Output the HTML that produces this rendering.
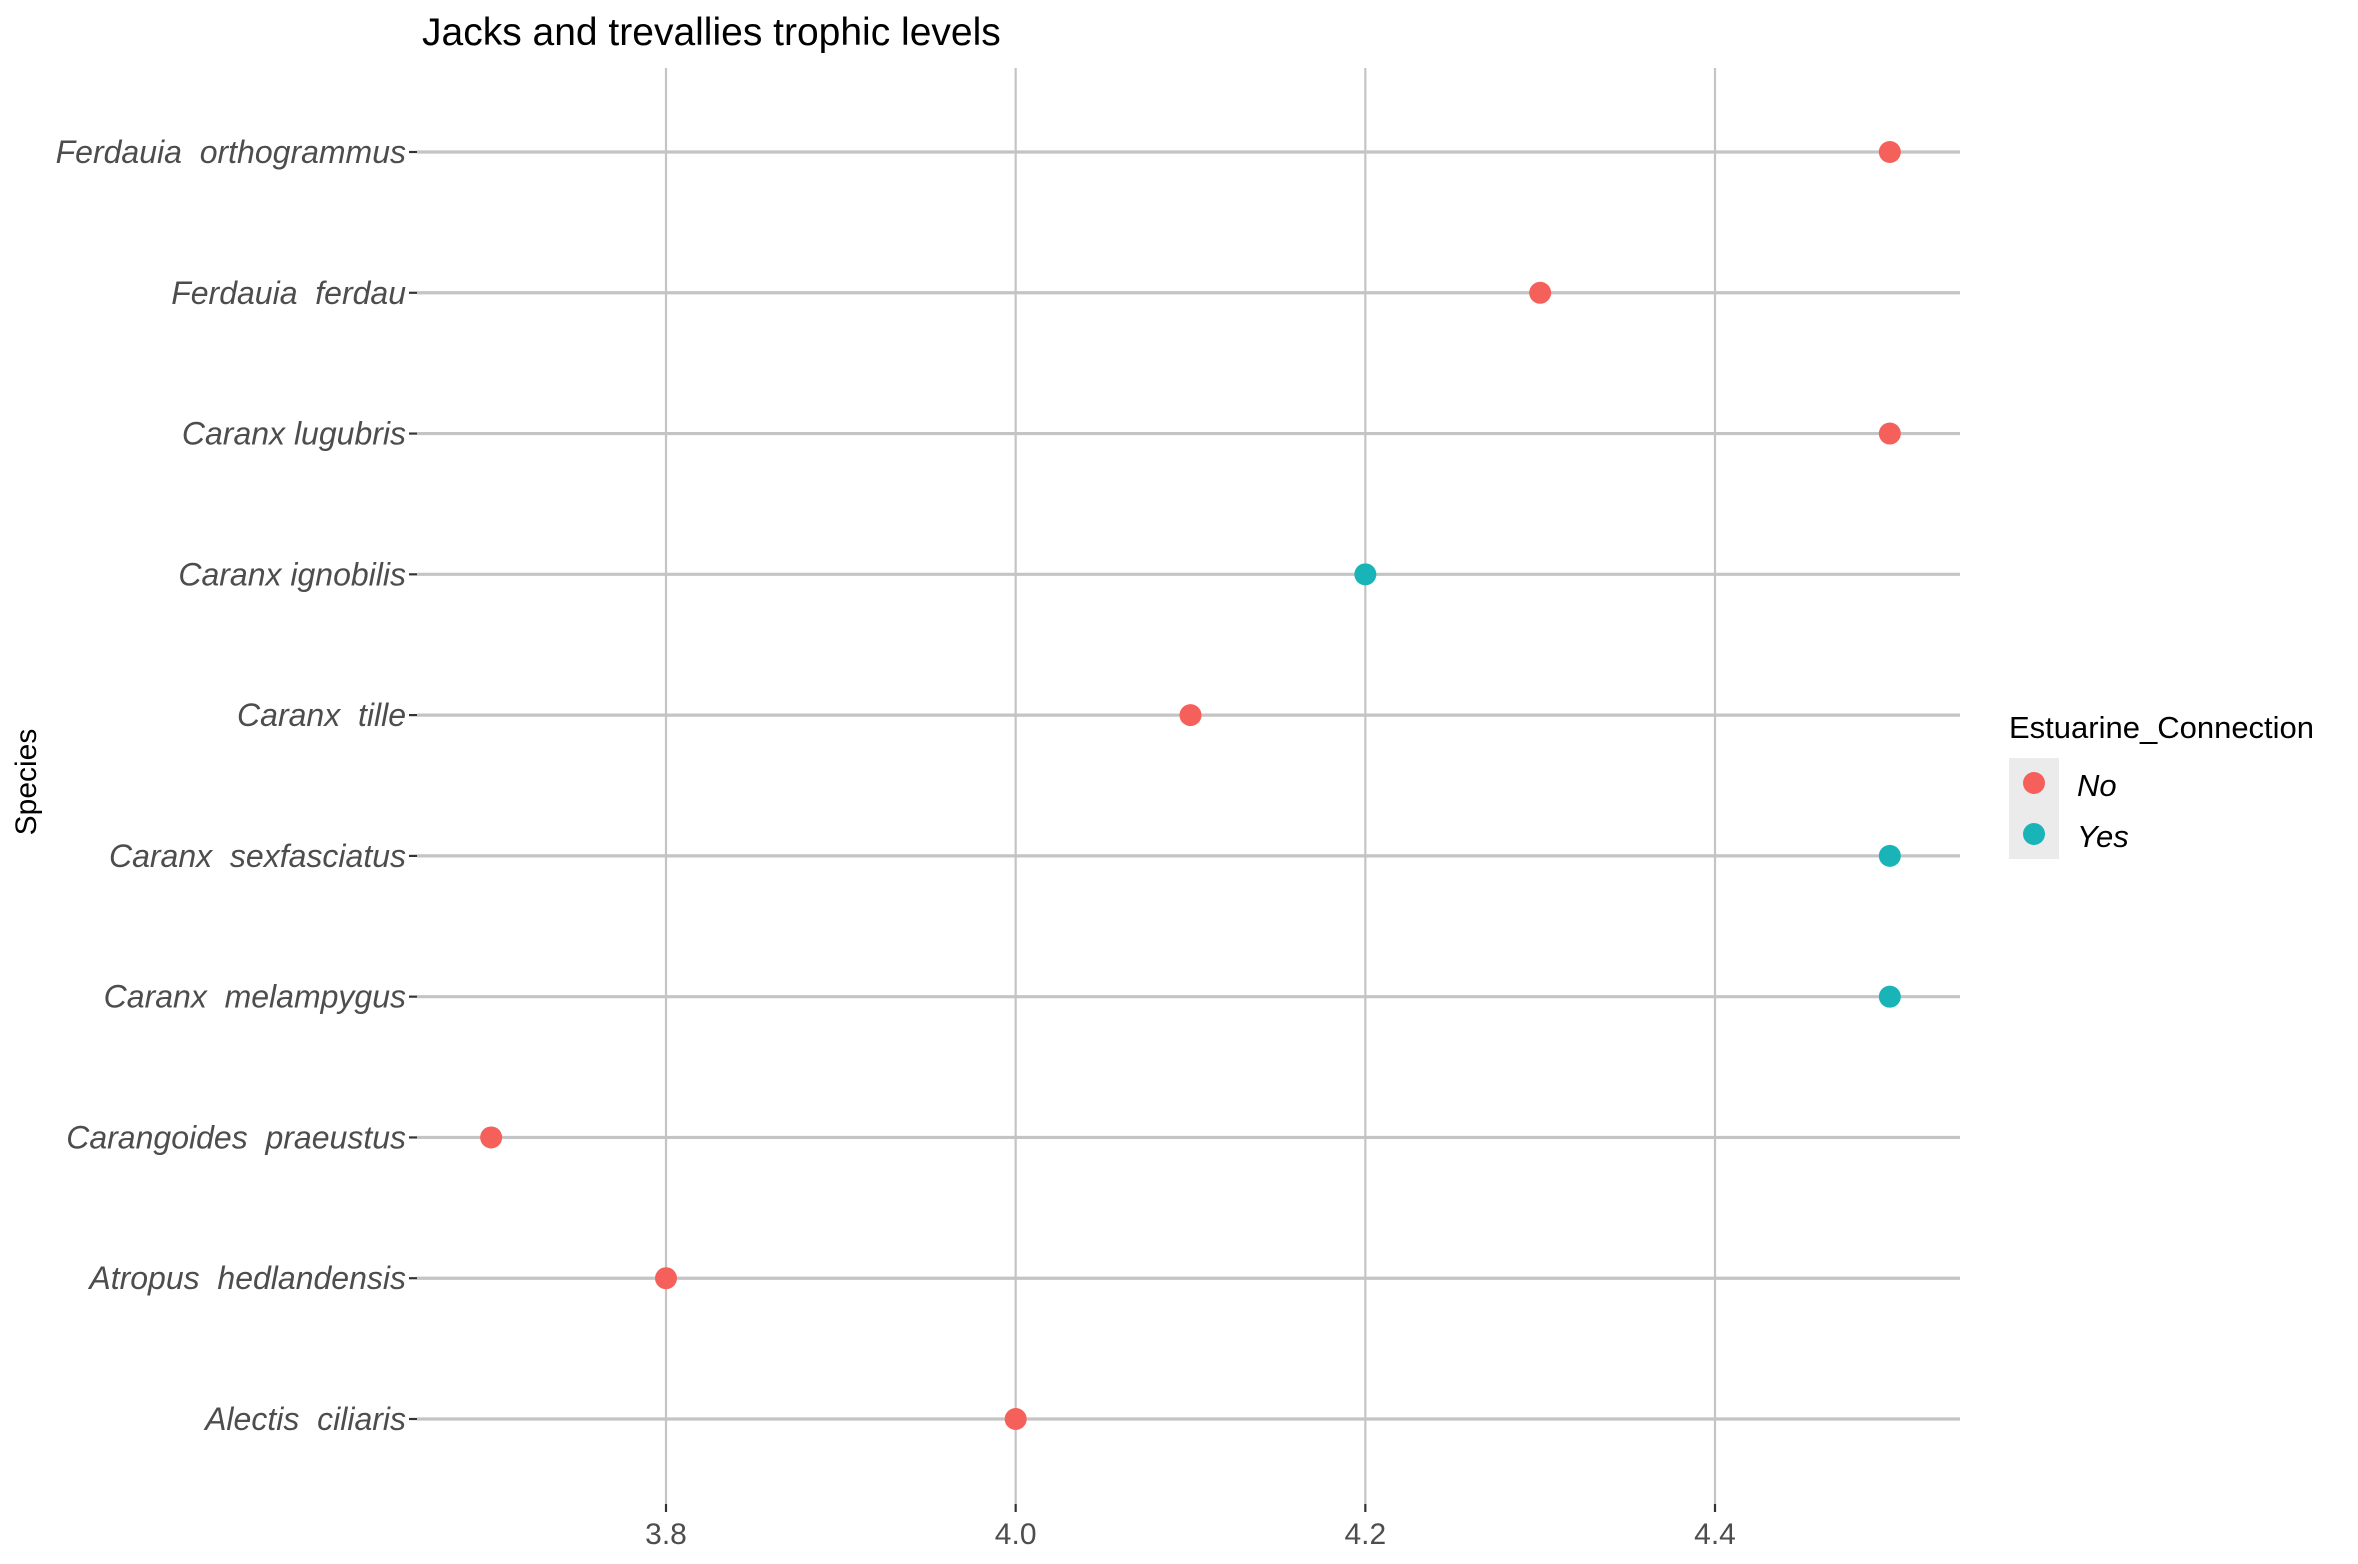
<!DOCTYPE html>
<html><head><meta charset="utf-8"><style>
html,body{margin:0;padding:0;background:#fff;}
svg{display:block;font-family:"Liberation Sans",Arial,sans-serif;}
</style></head><body>
<svg id="chart" width="2358" height="1564" viewBox="0 0 2358 1564">
<text x="422" y="45" font-size="39" fill="#000">Jacks and trevallies trophic levels</text>
<g id="grid"></g>
<g id="yaxis"></g>
<g id="xaxis"></g>
<g id="points"></g>
<text transform="translate(36,782) rotate(-90)" text-anchor="middle" font-size="30" fill="#000">Species</text>
<g>
<text x="2009" y="738" font-size="31" fill="#000">Estuarine_Connection</text>
<rect x="2009" y="758" width="50" height="101" fill="#ebebeb"/>
<circle cx="2034" cy="783" r="11" fill="#F5605B"/>
<circle cx="2034" cy="834" r="11" fill="#19B4B8"/>
<text x="2077" y="796" font-size="31" font-style="italic" fill="#000">No</text>
<text x="2077" y="847" font-size="31" font-style="italic" fill="#000">Yes</text>
</g>
</svg>
<script>
const species = ["Ferdauia  orthogrammus","Ferdauia  ferdau","Caranx lugubris","Caranx ignobilis","Caranx  tille","Caranx  sexfasciatus","Caranx  melampygus","Carangoides  praeustus","Atropus  hedlandensis","Alectis  ciliaris"];
const trophic = [4.5,4.3,4.5,4.2,4.1,4.5,4.5,3.7,3.8,4.0];
const estuarine = ["No","No","No","Yes","No","Yes","Yes","No","No","No"];
const xTicks = [3.8,4.0,4.2,4.4];
const xTickLabels = ["3.8","4.0","4.2","4.4"];

const NS="http://www.w3.org/2000/svg";
const panelL=417, panelR=1960, panelT=68, panelB=1504;
function xScale(v){return 666+(v-3.8)*(1715-666)/0.6;}
function yScale(i){return 152+i*(1419-152)/(species.length-1);}
const colors={No:"#F5605B",Yes:"#19B4B8"};
function mk(tag,attrs,parent){const e=document.createElementNS(NS,tag);for(const k in attrs)e.setAttribute(k,attrs[k]);parent.appendChild(e);return e;}
const grid=document.getElementById('grid'),ya=document.getElementById('yaxis'),xa=document.getElementById('xaxis'),pts=document.getElementById('points');
xTicks.forEach((t,i)=>{
  const x=xScale(t);
  const l=mk('line',{x1:x,x2:x,y1:panelT,y2:panelB,stroke:"#c4c4c4","stroke-width":2.2},grid);
  
  
  const tk=mk('line',{x1:x,x2:x,y1:panelB,y2:panelB+8,stroke:"#333","stroke-width":2.2},xa);
  
  
  const tx=mk('text',{x:x,y:1544,"text-anchor":"middle","font-size":30,fill:"#4d4d4d"},xa);
  tx.textContent=xTickLabels[i];
  
  
});
species.forEach((s,i)=>{
  const y=yScale(i);
  const l=mk('line',{x1:panelL,x2:panelR,y1:y,y2:y,stroke:"#c4c4c4","stroke-width":3.2},grid);
  
  
  const tk=mk('line',{x1:409,x2:417,y1:y,y2:y,stroke:"#333","stroke-width":2.2},ya);
  
  
  const tx=mk('text',{x:406,y:y+11,"text-anchor":"end","font-size":32,"font-style":"italic",fill:"#4d4d4d"},ya);
  tx.style.whiteSpace="pre";
  tx.textContent=s;
  
  
  const c=mk('circle',{cx:xScale(trophic[i]),cy:y,r:11,fill:colors[estuarine[i]]},pts);
  
  
});
</script>
</body></html>
